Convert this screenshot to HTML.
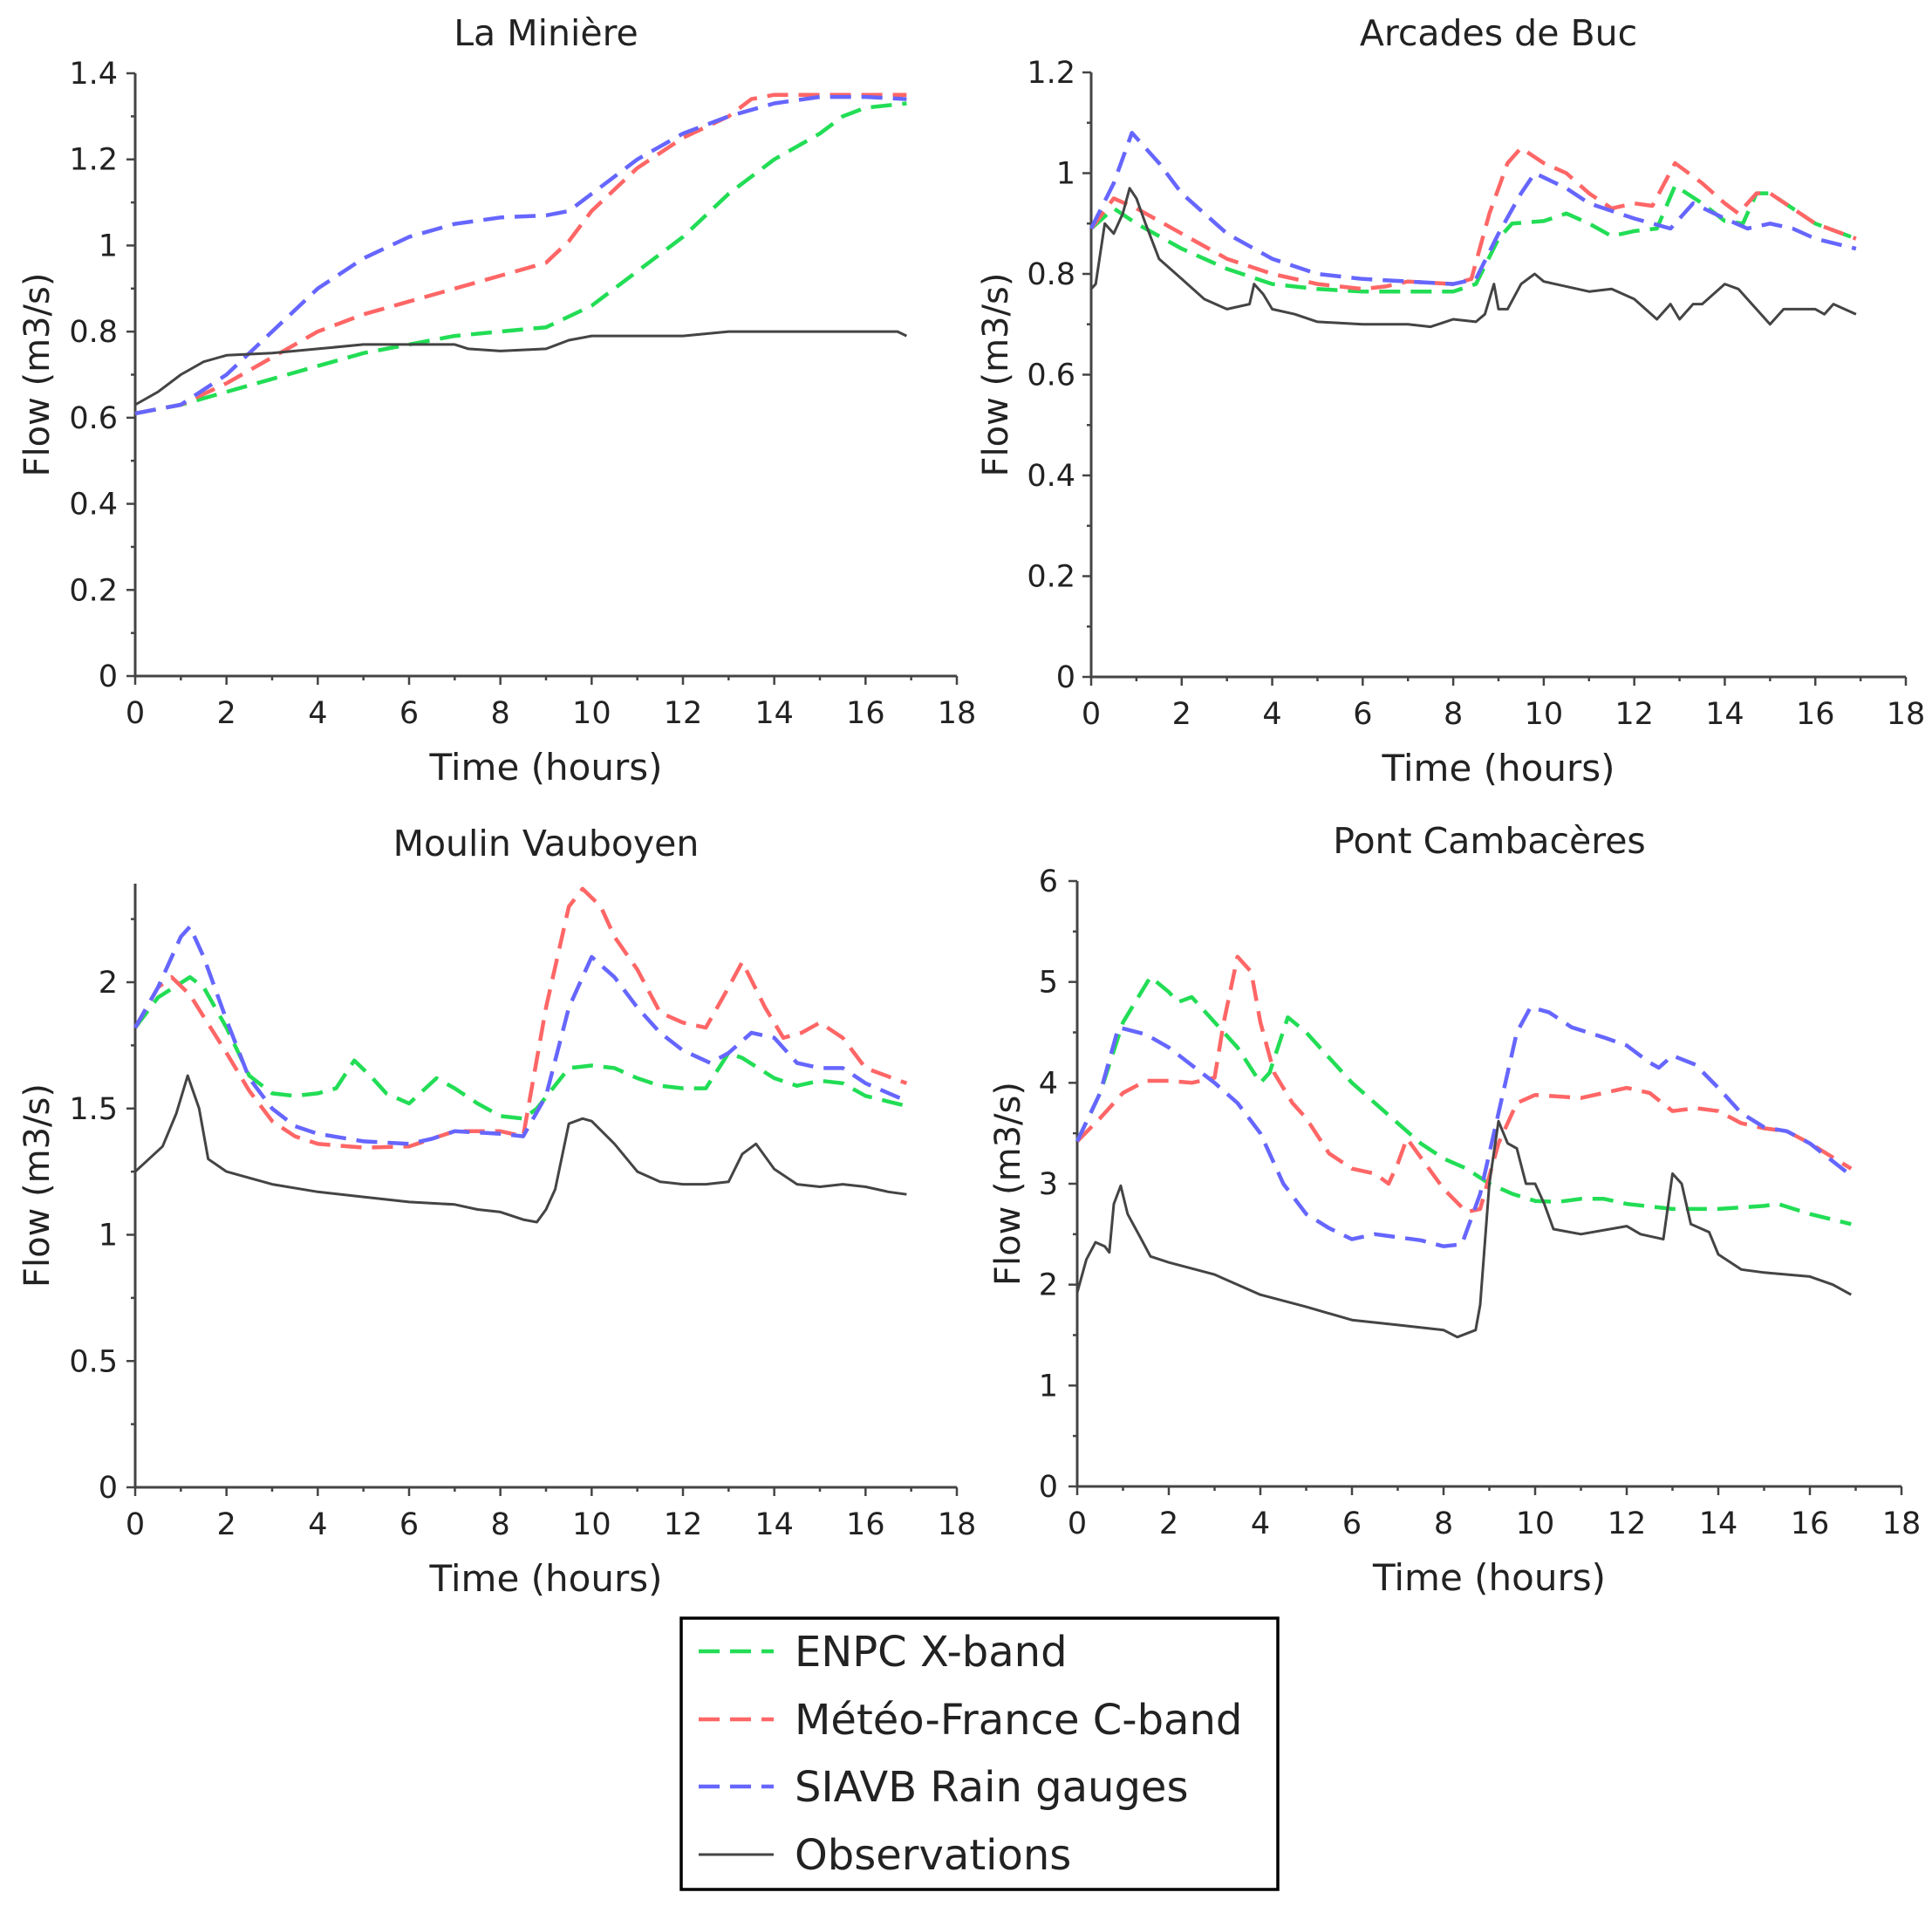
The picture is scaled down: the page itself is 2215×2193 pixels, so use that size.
<!DOCTYPE html>
<html>
<head>
<meta charset="utf-8">
<style>
  html, body { margin:0; padding:0; background:#fff; }
  svg { display:block; }
  text { font-family: "DejaVu Sans", "Liberation Sans", sans-serif; fill:#222; }
</style>
</head>
<body>
<svg id="fig" width="2215" height="2193" viewBox="0 0 2215 2193" xmlns="http://www.w3.org/2000/svg">
  <g id="panels"></g>
  <g id="legend">
    <rect x="781" y="1855" width="684" height="311" fill="#fff" stroke="#000" stroke-width="3.5"/>
    <line x1="801" y1="1893" x2="887" y2="1893" stroke="#22dd55" stroke-width="4.5" stroke-dasharray="24,12"/>
    <text x="911" y="1910" font-size="48">ENPC X-band</text>
    <line x1="801" y1="1971" x2="887" y2="1971" stroke="#ff6666" stroke-width="4.5" stroke-dasharray="24,12"/>
    <text x="911" y="1988" font-size="48">Météo-France C-band</text>
    <line x1="801" y1="2048" x2="887" y2="2048" stroke="#6666ff" stroke-width="4.5" stroke-dasharray="24,12"/>
    <text x="911" y="2065" font-size="48">SIAVB Rain gauges</text>
    <line x1="801" y1="2126" x2="887" y2="2126" stroke="#444" stroke-width="3"/>
    <text x="911" y="2143" font-size="48">Observations</text>
  </g>
</svg>
<script>
// ---------- La Minière ----------
const minT_blue = [0,1,2,3,4,5,6,7,8,9,9.5,10,11,12,13,14,15,16,16.9];
const minV_blue = [0.61,0.63,0.70,0.80,0.90,0.97,1.02,1.05,1.065,1.07,1.08,1.12,1.20,1.26,1.30,1.33,1.345,1.345,1.34];
const minT_red = [0,1,2,3,4,5,6,7,8,9,9.5,10,11,12,13,13.5,14,15,16,16.9];
const minV_red = [0.61,0.63,0.68,0.74,0.80,0.84,0.87,0.90,0.93,0.96,1.01,1.08,1.18,1.25,1.30,1.34,1.35,1.35,1.35,1.35];
const minT_green = [0,1,2,3,4,5,6,7,8,9,10,11,12,13,14,15,15.5,16,16.9];
const minV_green = [0.61,0.63,0.66,0.69,0.72,0.75,0.77,0.79,0.80,0.81,0.86,0.94,1.02,1.12,1.20,1.26,1.30,1.32,1.33];
const minT_obs = [0,0.5,1,1.5,2,3,4,5,6,7,7.3,8,9,9.5,10,11,12,13,14,15,16,16.7,16.9];
const minV_obs = [0.63,0.66,0.70,0.73,0.745,0.75,0.76,0.77,0.77,0.77,0.76,0.755,0.76,0.78,0.79,0.79,0.79,0.80,0.80,0.80,0.80,0.80,0.79];
// ---------- Arcades de Buc ----------
const arcT_blue = [0,0.5,0.9,1.5,2,3,4,5,6,7,8,8.5,9,9.5,9.8,10.5,11,12,12.8,13.3,14,14.5,15,15.5,16,16.9];
const arcV_blue = [0.89,0.98,1.08,1.02,0.96,0.88,0.83,0.80,0.79,0.785,0.78,0.79,0.88,0.96,1.0,0.97,0.94,0.91,0.89,0.94,0.91,0.89,0.90,0.89,0.87,0.85];
const arcT_red = [0,0.5,1,2,3,4,5,6,6.5,7,8,8.4,8.8,9.2,9.5,10,10.5,11,11.5,12,12.4,12.9,13.5,14,14.3,14.7,15,16,16.9];
const arcV_red = [0.89,0.95,0.93,0.88,0.83,0.80,0.78,0.77,0.775,0.785,0.78,0.79,0.92,1.02,1.05,1.02,1.0,0.96,0.93,0.94,0.935,1.02,0.98,0.94,0.92,0.96,0.96,0.90,0.87];
const arcT_green = [0,0.5,1,2,3,4,5,6,7,8,8.5,9,9.3,10,10.5,11,11.5,12,12.5,12.9,13.5,14,14.4,14.7,15,16,16.9];
const arcV_green = [0.89,0.93,0.90,0.85,0.81,0.78,0.77,0.765,0.765,0.765,0.78,0.87,0.90,0.905,0.92,0.90,0.875,0.885,0.89,0.975,0.94,0.905,0.90,0.96,0.96,0.90,0.87];
const arcT_obs = [0,0.1,0.3,0.5,0.7,0.85,1,1.2,1.5,2,2.5,3,3.5,3.6,3.8,4,4.5,5,6,7,7.5,8,8.5,8.7,8.9,9,9.2,9.5,9.8,10,11,11.5,12,12.5,12.8,13,13.3,13.5,14,14.3,14.5,15,15.3,16,16.2,16.4,16.9];
const arcV_obs = [0.77,0.78,0.90,0.88,0.92,0.97,0.95,0.90,0.83,0.79,0.75,0.73,0.74,0.78,0.76,0.73,0.72,0.705,0.70,0.70,0.695,0.71,0.705,0.72,0.78,0.73,0.73,0.78,0.80,0.785,0.765,0.77,0.75,0.71,0.74,0.71,0.74,0.74,0.78,0.77,0.75,0.70,0.73,0.73,0.72,0.74,0.72];
// ---------- Moulin Vauboyen ----------
const mouT_blue = [0,0.5,1,1.2,1.5,2,2.5,3,3.5,4,5,6,6.5,7,8,8.5,9,9.5,10,10.5,11,11.5,12,12.6,13,13.5,14,14.5,15,15.5,16,16.9];
const mouV_blue = [1.82,1.98,2.18,2.22,2.10,1.85,1.62,1.50,1.43,1.40,1.37,1.36,1.38,1.41,1.40,1.39,1.55,1.90,2.10,2.02,1.90,1.80,1.73,1.68,1.72,1.80,1.78,1.68,1.66,1.66,1.60,1.53];
const mouT_red = [0,0.5,0.8,1.2,2,2.5,3,3.5,4,5,6,6.5,7,8,8.5,9,9.5,9.8,10.2,10.5,11,11.5,12,12.5,13,13.3,13.8,14.2,14.6,15,15.5,16,16.9];
const mouV_red = [1.82,1.98,2.02,1.95,1.72,1.57,1.45,1.39,1.36,1.345,1.35,1.38,1.41,1.41,1.39,1.90,2.30,2.37,2.30,2.18,2.05,1.88,1.84,1.82,1.98,2.08,1.90,1.78,1.80,1.84,1.78,1.66,1.60];
const mouT_green = [0,0.5,1.2,1.5,2,2.5,3,3.5,4,4.4,4.8,5.2,5.5,6,6.6,7,7.5,8,8.5,8.8,9.5,10,10.5,11,11.5,12,12.5,13,13.3,14,14.5,15,15.5,16,16.9];
const mouV_green = [1.82,1.94,2.02,1.98,1.82,1.63,1.56,1.55,1.56,1.58,1.69,1.62,1.56,1.52,1.62,1.58,1.52,1.47,1.46,1.50,1.66,1.67,1.66,1.62,1.59,1.58,1.58,1.72,1.70,1.62,1.59,1.61,1.60,1.55,1.51];
const mouT_obs = [0,0.3,0.6,0.9,1.15,1.4,1.6,2,3,4,5,6,7,7.5,8,8.5,8.8,9,9.2,9.5,9.8,10,10.5,11,11.5,12,12.5,13,13.3,13.6,14,14.5,15,15.5,16,16.5,16.9];
const mouV_obs = [1.25,1.30,1.35,1.48,1.63,1.50,1.30,1.25,1.20,1.17,1.15,1.13,1.12,1.10,1.09,1.06,1.05,1.10,1.18,1.44,1.46,1.45,1.36,1.25,1.21,1.20,1.20,1.21,1.32,1.36,1.26,1.20,1.19,1.20,1.19,1.17,1.16];
// ---------- Pont Cambacères ----------
const ponT_blue = [0,0.5,0.9,1.5,2,3,3.5,4,4.5,5,5.5,6,6.5,7,7.5,8,8.4,8.8,9.2,9.6,9.9,10.3,10.8,11.5,12,12.5,12.7,13,13.5,14,14.5,15,15.5,16,16.9];
const ponV_blue = [3.42,3.9,4.55,4.48,4.35,4.0,3.8,3.5,3.0,2.7,2.56,2.45,2.5,2.47,2.44,2.38,2.40,2.9,3.7,4.5,4.75,4.7,4.55,4.45,4.37,4.2,4.15,4.27,4.18,3.95,3.7,3.56,3.52,3.4,3.08];
const ponT_red = [0,0.5,1,1.5,2,2.5,3,3.2,3.5,3.8,4,4.3,4.7,5,5.5,6,6.5,6.8,7,7.2,7.6,8,8.5,8.8,9.2,9.6,10,11,12,12.5,13,13.5,14,14.5,15,15.5,16,16.9];
const ponV_red = [3.42,3.65,3.9,4.02,4.02,4.0,4.05,4.6,5.25,5.1,4.6,4.1,3.8,3.65,3.3,3.15,3.1,3.0,3.2,3.45,3.2,2.95,2.72,2.75,3.4,3.8,3.88,3.85,3.95,3.9,3.72,3.75,3.72,3.6,3.55,3.52,3.4,3.15];
const ponT_green = [0,0.5,1,1.6,2,2.2,2.5,3,3.5,4,4.2,4.6,5,6,7,7.5,8,8.5,9,9.5,10,10.5,11,11.5,12,13,14,15,15.3,16,16.9];
const ponV_green = [3.42,3.9,4.6,5.05,4.9,4.8,4.85,4.6,4.35,4.0,4.1,4.65,4.5,4.0,3.6,3.4,3.25,3.15,3.0,2.9,2.83,2.82,2.85,2.85,2.8,2.75,2.75,2.78,2.8,2.7,2.6];
const ponT_obs = [0,0.2,0.4,0.6,0.7,0.8,0.95,1.1,1.4,1.6,2,3,4,5,6,7,8,8.3,8.7,8.8,9,9.2,9.4,9.6,9.8,10,10.2,10.4,11,12,12.3,12.8,13,13.2,13.4,13.8,14,14.5,15,16,16.5,16.9];
const ponV_obs = [1.92,2.25,2.42,2.38,2.32,2.8,2.98,2.7,2.45,2.28,2.22,2.1,1.9,1.78,1.65,1.6,1.55,1.48,1.55,1.8,3.0,3.62,3.4,3.35,3.0,3.0,2.8,2.55,2.5,2.58,2.5,2.45,3.1,3.0,2.6,2.52,2.3,2.15,2.12,2.08,2.0,1.9];

// y tick labels per panel
const minYTicks = [0,0.2,0.4,0.6,0.8,1,1.2,1.4];
const arcYTicks = [0,0.2,0.4,0.6,0.8,1,1.2];
const mouYTicks = [0,0.5,1,1.5,2];
const ponYTicks = [0,1,2,3,4,5,6];
const xTicks = [0,2,4,6,8,10,12,14,16,18];

const NS = 'http://www.w3.org/2000/svg';
const root = document.getElementById('panels');
function mk(tag, attrs, parent) {
  const e = document.createElementNS(NS, tag);
  for (const k in attrs) e.setAttribute(k, attrs[k]);
  parent.appendChild(e);
  return e;
}

const panels = [
  {key:'la-miniere', title:'La Minière', x0:155, x1:1097, y0:775, yTop:84, ymax:1.4, yticks:minYTicks, minorStep:0.1, ylabX:42, tickOff:20, titleY:52,
   series:[[minT_green,minV_green,'enpc'],[minT_red,minV_red,'meteo'],[minT_blue,minV_blue,'siavb'],[minT_obs,minV_obs,'obs']]},
  {key:'arcades-de-buc', title:'Arcades de Buc', x0:1251, x1:2185, y0:776, yTop:83, ymax:1.2, yticks:arcYTicks, minorStep:0.1, ylabX:1141, tickOff:18, titleY:52,
   series:[[arcT_green,arcV_green,'enpc'],[arcT_red,arcV_red,'meteo'],[arcT_blue,arcV_blue,'siavb'],[arcT_obs,arcV_obs,'obs']]},
  {key:'moulin-vauboyen', title:'Moulin Vauboyen', x0:155, x1:1097, y0:1705, yTop:1013, ymax:2.39, yunit:289.5, yticks:mouYTicks, minorStep:0.25, ylabX:42, tickOff:20, titleY:981,
   series:[[mouT_green,mouV_green,'enpc'],[mouT_red,mouV_red,'meteo'],[mouT_blue,mouV_blue,'siavb'],[mouT_obs,mouV_obs,'obs']]},
  {key:'pont-cambaceres', title:'Pont Cambacères', x0:1235, x1:2180, y0:1704, yTop:1010, ymax:6, yticks:ponYTicks, minorStep:0.5, ylabX:1155, tickOff:22, titleY:978,
   series:[[ponT_green,ponV_green,'enpc'],[ponT_red,ponV_red,'meteo'],[ponT_blue,ponV_blue,'siavb'],[ponT_obs,ponV_obs,'obs']]}
];
const styles = {
  enpc:{stroke:'#22dd55', w:4.5, dash:'24,12'},
  meteo:{stroke:'#ff6666', w:4.5, dash:'24,12'},
  siavb:{stroke:'#6666ff', w:4.5, dash:'24,12'},
  obs:{stroke:'#444444', w:3, dash:null}
};

panels.forEach(p => {
  const g = mk('g', {}, root);
  
  
  const xs = t => p.x0 + (p.x1 - p.x0) * t / 18;
  const unit = p.yunit || (p.y0 - p.yTop) / p.ymax;
  const ys = v => p.y0 - v * unit;
  const cx = (p.x0 + p.x1) / 2;

  const title = mk('text', {x:cx, y:p.titleY, 'font-size':41, 'text-anchor':'middle'}, g);
  title.textContent = p.title;
  
  

  const ax = mk('path', {d:`M${p.x0},${p.yTop} L${p.x0},${p.y0} L${p.x1},${p.y0}`, fill:'none', stroke:'#444', 'stroke-width':3}, g);
  
  

  for (let t = 0; t <= 18; t++) {
    const major = t % 2 === 0;
    mk('line', {x1:xs(t), y1:p.y0, x2:xs(t), y2:p.y0 + (major ? 10 : 5), stroke:'#444', 'stroke-width':2.5}, g);
  }
  xTicks.forEach(t => {
    const tl = mk('text', {x:xs(t), y:p.y0 + 54, 'font-size':35, 'text-anchor':'middle'}, g);
    tl.textContent = String(t);
    
    
  });
  const nMinor = Math.floor(p.ymax / p.minorStep + 1e-6);
  for (let i = 0; i <= nMinor; i++) {
    const v = i * p.minorStep;
    const isMajor = p.yticks.some(m => Math.abs(m - v) < 1e-6);
    mk('line', {x1:p.x0, y1:ys(v), x2:p.x0 - (isMajor ? 10 : 5), y2:ys(v), stroke:'#444', 'stroke-width':2.5}, g);
  }
  p.yticks.forEach(v => {
    const tl = mk('text', {x:p.x0 - p.tickOff, y:ys(v) + 12, 'font-size':35, 'text-anchor':'end'}, g);
    tl.textContent = String(v);
    
    
  });
  const xl = mk('text', {x:cx, y:p.y0 + 119, 'font-size':42, 'text-anchor':'middle'}, g);
  xl.textContent = 'Time (hours)';
  
  
  const ymid = (p.yTop + p.y0) / 2;
  const yl = mk('text', {x:p.ylabX, y:ymid, 'font-size':40, 'text-anchor':'middle', transform:`rotate(-90 ${p.ylabX} ${ymid})`, dy:14}, g);
  yl.textContent = 'Flow (m3/s)';
  
  

  p.series.forEach(([T, V, name]) => {
    const s = styles[name];
    const d = T.map((t, i) => (i ? 'L' : 'M') + xs(t).toFixed(1) + ',' + ys(V[i]).toFixed(1)).join(' ');
    const attrs = {d:d, fill:'none', stroke:s.stroke, 'stroke-width':s.w, 'stroke-linejoin':'round'};
    if (s.dash) attrs['stroke-dasharray'] = s.dash;
    const path = mk('path', attrs, g);
    
    
  });
});
</script>
</body>
</html>
